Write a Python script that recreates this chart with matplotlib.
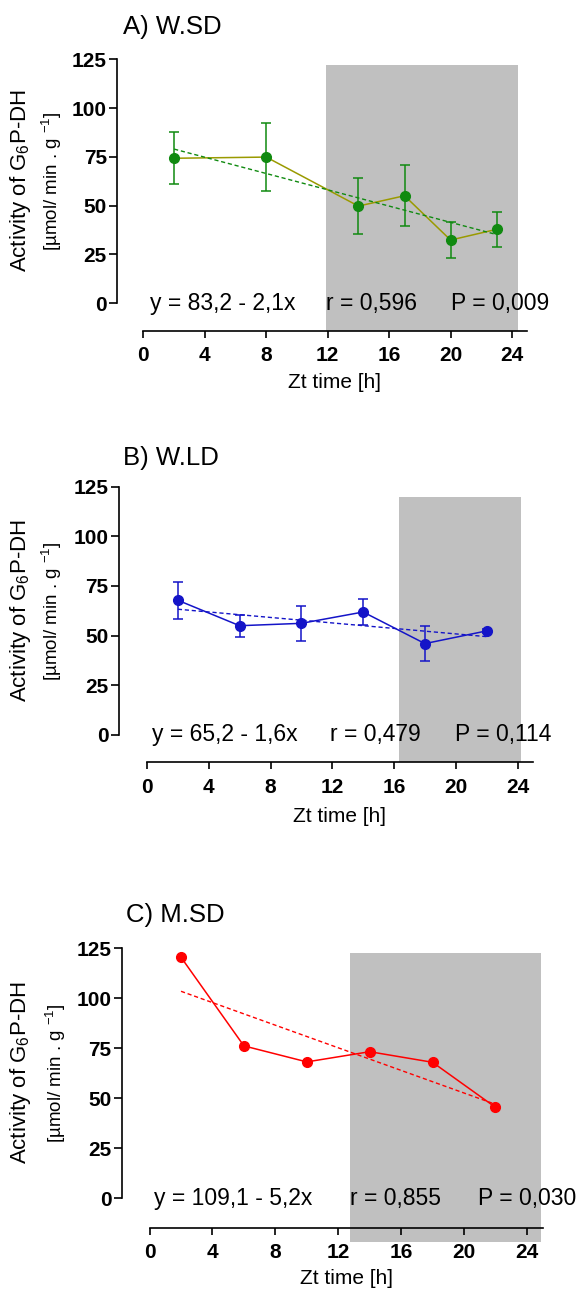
import matplotlib
matplotlib.use("Agg")
import matplotlib.pyplot as plt
from matplotlib.patches import Rectangle

plt.rcParams['font.family'] = ['Liberation Sans', 'DejaVu Sans']
plt.rcParams['mathtext.fontset'] = 'custom'
plt.rcParams['mathtext.rm'] = 'Liberation Sans'
plt.rcParams['mathtext.it'] = 'Liberation Sans:italic'
plt.rcParams['mathtext.bf'] = 'Liberation Sans:bold'

# ---- data ----
# A) W.SD
a_x = [2, 8, 14, 17, 20, 23]
a_y = [74.3, 74.9, 49.8, 55.1, 32.4, 37.9]
a_err = [13.3, 17.5, 14.5, 15.5, 9.3, 9.0]
a_fit_x = [2, 23]
a_fit_y = [79.0, 35.2]
a_dark = [11.9, 24.4]
a_stats = ['y = 83,2 - 2,1x', 'r = 0,596', 'P = 0,009']

# B) W.LD
b_x = [2, 6, 10, 14, 18, 22]
b_y = [67.8, 55.0, 56.2, 61.9, 46.0, 52.4]
b_err = [9.4, 5.5, 8.7, 6.4, 8.9, 1.0]
b_fit_x = [2, 22]
b_fit_y = [63.3, 49.5]
b_dark = [16.3, 24.2]
b_stats = ['y = 65,2 - 1,6x', 'r = 0,479', 'P = 0,114']

# C) M.SD
c_x = [2, 6, 10, 14, 18, 22]
c_y = [120.5, 76.2, 68.2, 73.3, 68.0, 45.5]
c_fit_x = [2, 22]
c_fit_y = [103.5, 47.0]
c_dark = [12.75, 24.9]
c_stats = ['y = 109,1 - 5,2x', 'r = 0,855', 'P = 0,030']

x_ticks = [0, 4, 8, 12, 16, 20, 24]
y_ticks = [0, 25, 50, 75, 100, 125]

W, H = 580, 1290
fig = plt.figure(figsize=(W / 100, H / 100), dpi=100)


def fx(px):
    return px / W


def fy(py):
    return 1 - py / H


def make_axes(spine_x, x0, pph, y0, ppu, axis_y):
    """Axes placed in pixels: left spine at spine_x, x=0 at x0, y=0 at y0."""
    right = x0 + 25 * pph
    top = y0 - 125 * ppu
    ax = fig.add_axes([fx(spine_x), fy(axis_y), (right - spine_x) / W, (axis_y - top) / H])
    ax.set_xlim((spine_x - x0) / pph, 25)
    ax.set_ylim(-(axis_y - y0) / ppu, 125)
    ax.patch.set_alpha(0)
    for s in ['top', 'right']:
        ax.spines[s].set_visible(False)
    ax.spines['left'].set_bounds(0, 125)
    ax.spines['bottom'].set_bounds(0, 25)
    for s in ['left', 'bottom']:
        ax.spines[s].set_linewidth(1.2)
        ax.spines[s].set_zorder(5)
    ax.set_xticks(x_ticks)
    ax.set_yticks(y_ticks)
    ax.tick_params(axis='both', direction='out', width=1.2, labelsize=15)
    ax.tick_params(axis='y', length=6, pad=1.5)
    ax.tick_params(axis='x', length=5, pad=6)
    for lab in ax.get_xticklabels() + ax.get_yticklabels():
        lab.set_fontweight('bold')
    return ax


def add_dark(ax, span, ybot, ytop):
    ax.add_patch(Rectangle((span[0], ybot), span[1] - span[0], ytop - ybot,
                           facecolor='#c0c0c0', edgecolor='none', zorder=0, clip_on=False))


def add_labels(ax, title, title_xy, ylab_x, ylab2_x, ylab_y, xlab_xy, stats, stats_x):
    fig.text(fx(title_xy[0]), fy(title_xy[1]), title, fontsize=18.5, ha='left', va='center')
    fig.text(fx(ylab_x), fy(ylab_y), 'Activity of G$_6$P-DH', rotation=90,
             fontsize=16, ha='center', va='center')
    fig.text(fx(ylab2_x), fy(ylab_y), '[µmol/ min . g $^{-1}$]', rotation=90,
             fontsize=13.5, ha='center', va='center')
    fig.text(fx(xlab_xy[0]), fy(xlab_xy[1]), 'Zt time [h]', fontsize=15,
             ha='center', va='center')
    for s, xs in zip(stats, stats_x):
        ax.text(xs, 0, s, fontsize=16.5, ha='left', va='center', zorder=6, clip_on=False)


# ---- panel A ----
axA = make_axes(117.3, 143.4, 15.36, 303.3, 1.952, 330.7)
add_dark(axA, a_dark, -14.0, 122.1)
axA.plot(a_x, a_y, color='#9a9a00', lw=1.1, zorder=3)
axA.plot(a_fit_x, a_fit_y, color='#108a10', lw=1.0, ls=(0, (3, 2)), zorder=3)
axA.errorbar(a_x, a_y, yerr=a_err, fmt='o', color='#108a10', ms=7,
             capsize=3.5, elinewidth=1.1, capthick=1.1, zorder=4)
add_labels(axA, 'A) W.SD', (122.7, 26.7), 20.5, 52, 181, (335, 383),
           a_stats, [0.46, 11.9, 20.0])

# ---- panel B ----
axB = make_axes(119, 147, 15.44, 735, 1.987, 762.3)
add_dark(axB, b_dark, -13.7, 119.7)
axB.plot(b_x, b_y, color='#1414c8', lw=1.1, zorder=3)
axB.plot(b_fit_x, b_fit_y, color='#1414c8', lw=1.0, ls=(0, (3, 2)), zorder=3)
axB.errorbar(b_x, b_y, yerr=b_err, fmt='o', color='#1414c8', ms=7,
             capsize=3.5, elinewidth=1.1, capthick=1.1, zorder=4)
add_labels(axB, 'B) W.LD', (123.4, 458.3), 20.5, 52, 611, (340, 816.7),
           b_stats, [0.35, 11.85, 19.95])

# ---- panel C ----
axC = make_axes(121.7, 149.6, 15.72, 1198.3, 2.0, 1227.7)
add_dark(axC, c_dark, -21.7, 122.8)
axC.plot(c_x, c_y, color='#ff0000', lw=1.1, zorder=3)
axC.plot(c_fit_x, c_fit_y, color='#ff0000', lw=1.0, ls=(0, (3, 2)), zorder=3)
axC.plot(c_x, c_y, 'o', color='#ff0000', ms=7, zorder=4, clip_on=False)
add_labels(axC, 'C) M.SD', (126.4, 915), 20.5, 55.8, 1073, (346.7, 1278.3),
           c_stats, [0.3, 12.75, 20.9])

fig.savefig('out.png', dpi=100)
